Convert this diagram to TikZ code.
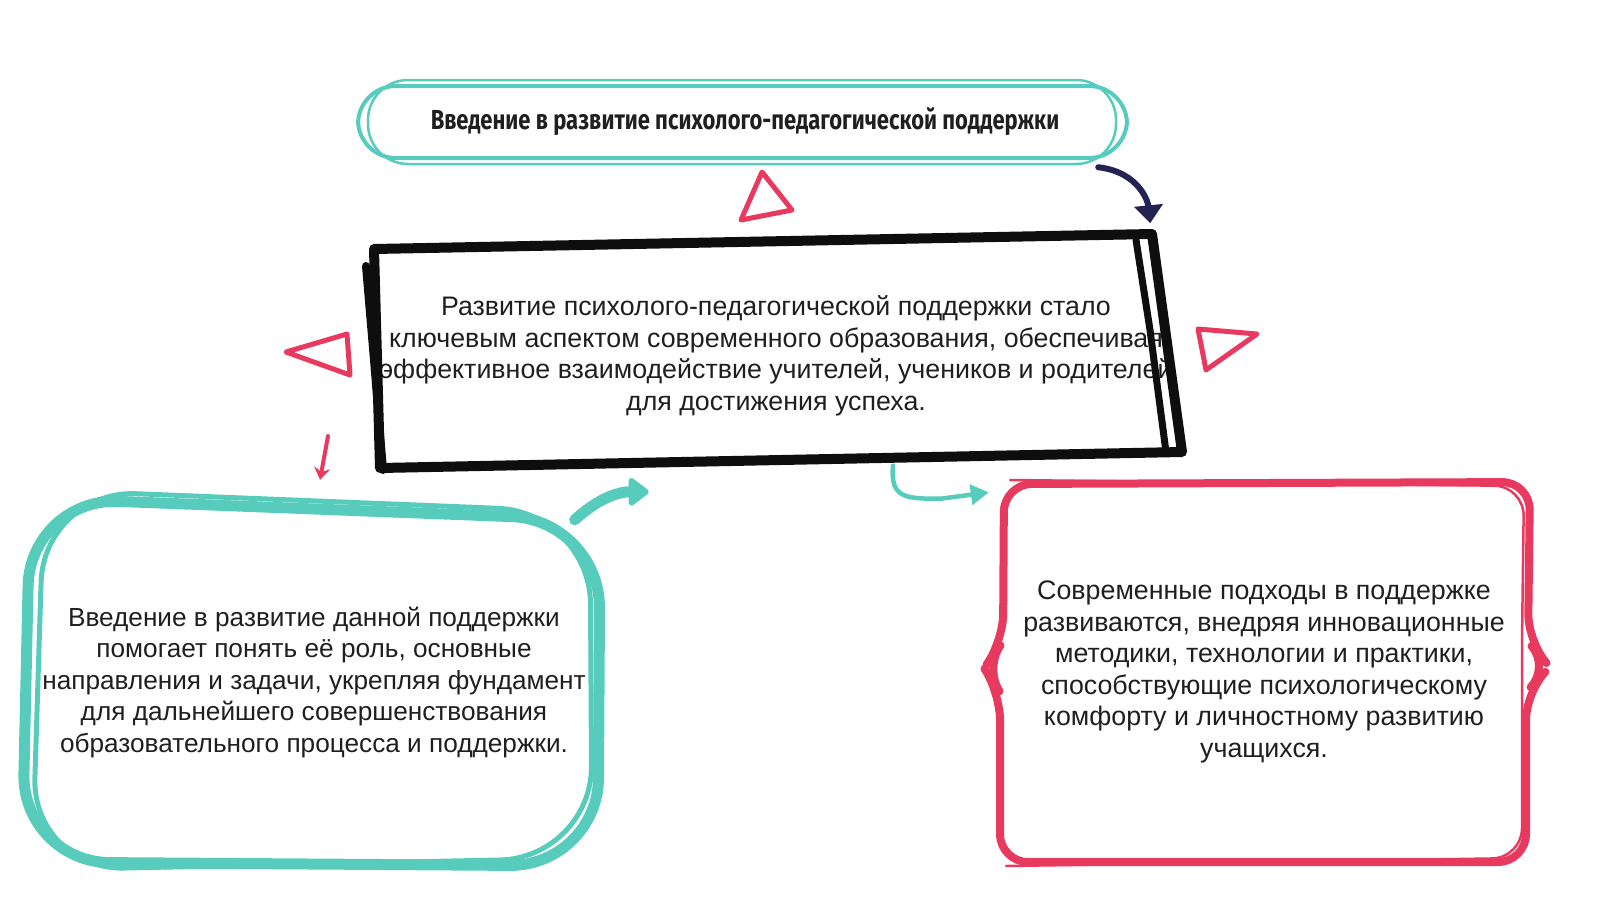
\documentclass[tikz,border=0pt]{standalone}
\usepackage{fontspec}
\setmainfont{Liberation Sans}
\newfontfamily\headfont[FakeStretch=0.8]{Fira Sans}
\usetikzlibrary{arrows.meta, positioning, calc}
\definecolor{mint}{RGB}{88,204,188}
\definecolor{rose}{RGB}{232,58,94}
\definecolor{navy}{RGB}{36,34,82}
\definecolor{ink}{RGB}{14,14,14}

\begin{document}
\begin{tikzpicture}[x=1pt, y=-1pt, line cap=round, line join=round,
    every node/.style={font=\fontsize{26.8}{31.5}\selectfont, align=center, inner sep=0pt, text=black!88},
    mintline/.style={draw=mint, line width=4pt},
    roseline/.style={draw=rose, line width=5pt},
    inkline/.style={draw=ink, line width=10pt}]
    \useasboundingbox (0,0) rectangle (1600,900);

    % text nodes, sized like the hand-drawn frames round them
    \node[minimum width=770, minimum height=80, font=\headfont\bfseries\fontsize{27.5}{30}\selectfont] (title) at (745,122)
        {Введение в развитие психолого-педагогической поддержки};
    \node[minimum width=800, minimum height=225] (core) at (776,356) {
        Развитие психолого-педагогической поддержки стало\\
        ключевым аспектом современного образования, обеспечивая\\
        эффективное взаимодействие учителей, учеников и родителей\\
        для достижения успеха.};
    \node[minimum width=565, minimum height=380, font=\fontsize{26.2}{31.5}\selectfont] (intro) at (314,682) {
        Введение в развитие данной поддержки\\
        помогает понять её роль, основные\\
        направления и задачи, укрепляя фундамент\\
        для дальнейшего совершенствования\\
        образовательного процесса и поддержки.};
    \node[minimum width=550, minimum height=385] (modern) at (1264,672) {
        Современные подходы в поддержке\\
        развиваются, внедряя инновационные\\
        методики, технологии и практики,\\
        способствующие психологическому\\
        комфорту и личностному развитию\\
        учащихся.};

    % frames
    \draw[mintline, rounded corners=38] (358,86) rectangle (1127,158);
    \draw[mintline, line width=2.5pt, rounded corners=40] (368,80) rectangle (1116,164);

    \draw[inkline] (374,249) -- (1152,234) -- (1182,452) -- (380,468) -- cycle;
    \draw[ink, line width=8pt] (366,266) -- (374,360) -- (383,470);
    \draw[ink, line width=7pt] (1136,240) -- (1150,330) -- (1166,452);

    \draw[mint, line width=11pt, rounded corners=88] (30,498) -- (600,520) -- (598,866) -- (22,862) -- cycle;
    \draw[mint, line width=5pt, rounded corners=92] (44,490) -- (590,512) -- (592,858) -- (32,870) -- cycle;

    \draw[rose, line width=8pt, rounded corners=28] (1004,484) -- (1530,482) -- (1528,642) -- (1550,667)
        -- (1526,692) -- (1526,862) -- (1000,862) -- (1000,692) -- (984,668) -- (1003,642) -- cycle;
    \draw[rose, line width=2.5pt, rounded corners=30] (1010,480) -- (1524,486) -- (1522,640)
        -- (1522,858) -- (1006,866);

    % triangles
    \draw[roseline] (762,172) -- (792,210) -- (741,220) -- cycle;
    \draw[roseline] (286,352) -- (347,334) -- (350,375) -- cycle;
    \draw[roseline] (1198,329) -- (1257,334) -- (1206,370) -- cycle;

    % connectors
    \draw[navy, line width=6pt, -{Triangle[width=28pt, length=18pt]}]
        ($(title.south east)+(-32,5)$) .. controls ($(title.south east)+(10,10)$) and ($(core.north east)+(-28,-40)$) .. ($(core.north east)+(-26,-20)$);
    \draw[rose, line width=4pt, -{Stealth[width=16pt, length=12pt]}]
        (328,436) -- ($(intro.north)+(6,-12)$);
    \draw[mint, line width=11pt, -{Triangle[width=32pt, length=22pt, round]}]
        ($(intro.north east)+(-22,28)$) .. controls ($(intro.north east)+(0,8)$) and ($(intro.north east)+(20,0)$) .. ($(intro.north east)+(52,0)$);
    \draw[mint, line width=4.5pt, -{Triangle[width=20pt, length=18pt]}]
        ($(core.south)+(117,-3)$) .. controls ($(core.south)+(114,30)$) and ($(core.south)+(130,30)$) .. ($(core.south)+(165,30)$)
        -- ($(modern.north west)+(0,13)$);
\end{tikzpicture}
\end{document}
